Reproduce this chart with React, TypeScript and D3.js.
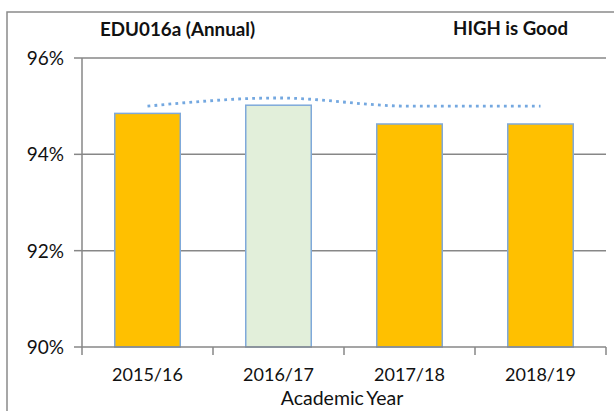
import React from 'react';
import * as d3 from 'd3';

const categories = ['2015/16', '2016/17', '2017/18', '2018/19'];
const values = [94.85, 95.02, 94.63, 94.63];
const comparison = [95.0, 95.17, 95.0, 95.0];
const highlightIndex = 1;
const yTicks = [90, 92, 94, 96];

const WIDTH = 614,
    HEIGHT = 411;

const PLOT = {
    LEFT: 82,
    RIGHT: 606,
    TOP: 58,
    BOTTOM: 347
}

const FONT = 'Lato, "Open Sans", sans-serif';

const App = () => {
    const xScale = d3.scaleBand<string>()
        .domain(categories)
        .range([PLOT.LEFT, PLOT.RIGHT])
        .paddingInner(0.5)
        .paddingOuter(0.25);
    const yScale = d3.scaleLinear().domain([90, 96]).range([PLOT.BOTTOM, PLOT.TOP]);

    const step = xScale.step();
    const center = (c: string) => (xScale(c) as number) + xScale.bandwidth() / 2;

    const line = d3.line<number>()
        .x((_, i) => center(categories[i]))
        .y(d => yScale(d))
        .curve(d3.curveMonotoneX);

    return (
        <svg width={WIDTH} height={HEIGHT} style={{ position: 'absolute', left: 0, top: 0, background: '#fff' }}>
            {/* outer chart frame, runs off the right and bottom */}
            <rect x={7} y={12} width={620} height={420} fill='#fff' stroke='#8a8a8a' strokeWidth={1.5} />

            <text x={100} y={36} fontFamily={FONT} fontWeight='bold' fontSize={18.8} fill='#111'>EDU016a (Annual)</text>
            <text x={568} y={35} fontFamily={FONT} fontWeight='bold' fontSize={18.6} fill='#111' textAnchor='end'>HIGH is Good</text>

            {/* gridlines + y ticks */}
            {yTicks.map(t => (
                <g key={`y-${t}`}>
                    {t > 90 && <line x1={PLOT.LEFT} x2={PLOT.RIGHT} y1={yScale(t)} y2={yScale(t)} stroke='#878787' strokeWidth={1.5} />}
                    <line x1={74} x2={PLOT.LEFT} y1={yScale(t)} y2={yScale(t)} stroke='#878787' strokeWidth={1.5} />
                    <text x={64} y={yScale(t)} dy='0.36em' textAnchor='end' fontFamily={FONT} fontSize={19} fill='#111'>{`${t}%`}</text>
                </g>
            ))}

            {/* bars */}
            {categories.map((c, i) => (
                <rect key={`bar-${c}`}
                    x={xScale(c)}
                    y={yScale(values[i])}
                    width={xScale.bandwidth()}
                    height={yScale(90) - yScale(values[i])}
                    fill={i === highlightIndex ? '#E2EFDA' : '#FFC000'}
                    stroke='#7FA9DA'
                    strokeWidth={1.5} />
            ))}

            <path d={line(comparison) || ''} fill='none' stroke='#74A8E0' strokeWidth={2.8} strokeDasharray='2.8,4.2' />

            {/* axes */}
            <line x1={PLOT.LEFT} x2={PLOT.LEFT} y1={PLOT.TOP} y2={PLOT.BOTTOM} stroke='#878787' strokeWidth={1.5} />
            <line x1={PLOT.LEFT} x2={PLOT.RIGHT} y1={PLOT.BOTTOM} y2={PLOT.BOTTOM} stroke='#878787' strokeWidth={1.5} />
            {d3.range(categories.length + 1).map(i => (
                <line key={`xt-${i}`} x1={PLOT.LEFT + i * step} x2={PLOT.LEFT + i * step} y1={PLOT.BOTTOM} y2={PLOT.BOTTOM + 8} stroke='#878787' strokeWidth={1.5} />
            ))}
            {categories.map(c => (
                <text key={`xl-${c}`} x={center(c)} y={381} textAnchor='middle' fontFamily={FONT} fontSize={18} fill='#111'>{c}</text>
            ))}
            <text x={342} y={405} textAnchor='middle' fontFamily={FONT} fontSize={19.5} wordSpacing={-2} fill='#111'>Academic Year</text>
        </svg>
    );
}

export default App;
